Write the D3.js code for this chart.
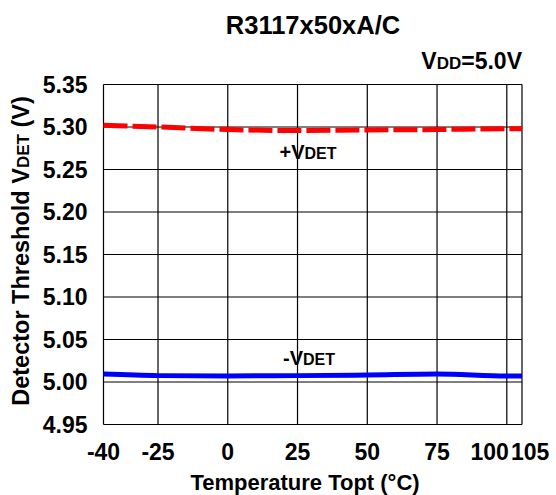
<!DOCTYPE html>
<html>
<head>
<meta charset="utf-8">
<script src="https://cdn.jsdelivr.net/npm/d3@7"></script>
<style>
  body { margin: 0; background: #fff; }
  text { font-family: "Liberation Sans", Arial, sans-serif; font-weight: bold; fill: #000; }
</style>
</head>
<body>
<div id="chart"></div>
<script>
// values
const temps = [-40, -25, 0, 25, 50, 75, 100, 105];
const vdetPlus = [5.302, 5.300, 5.297, 5.2958, 5.2965, 5.297, 5.298, 5.298];
const vdetMinus = [5.0093, 5.0075, 5.0071, 5.0075, 5.0082, 5.0093, 5.0071, 5.0071];
const xTicks = [-40, -25, 0, 25, 50, 75, 100, 105];
const yTicks = [4.95, 5.00, 5.05, 5.10, 5.15, 5.20, 5.25, 5.30, 5.35];

const W = 556, H = 495;
const margin = {left: 103.5, top: 84.5};
const width = 418.5, height = 340;

const svg = d3.select('#chart').append('svg')
  .attr('width', W)
  .attr('height', H);

const g = svg.append('g').attr('transform', `translate(${margin.left},${margin.top})`);

// the original axis is not evenly spaced at its ends, so use a piecewise scale
const x = d3.scaleLinear()
  .domain([-40, -25, 100, 105])
  .range([0, 54.5, 403.3, width]);

const y = d3.scaleLinear()
  .domain([4.95, 5.35])
  .range([height, 0]);

// grid
g.selectAll('.vgrid').data(xTicks).enter().append('line')
  .attr('x1', d => x(d)).attr('x2', d => x(d))
  .attr('y1', 0).attr('y2', height)
  .attr('stroke', '#000').attr('stroke-width', 1.2);

g.selectAll('.hgrid').data(yTicks).enter().append('line')
  .attr('x1', 0).attr('x2', width)
  .attr('y1', d => y(d)).attr('y2', d => y(d))
  .attr('stroke', '#000').attr('stroke-width', 1.2);

// tick labels
g.selectAll('.ylab').data(yTicks).enter().append('text')
  .attr('x', -16)
  .attr('y', d => y(d))
  .attr('dy', '0.36em')
  .attr('text-anchor', 'end')
  .style('font-size', '23px')
  .text(d => d.toFixed(2));

g.selectAll('.xlab').data(xTicks).enter().append('text')
  .attr('x', d => d === 100 ? x(d) + 2 : d === 105 ? x(d) - 11 : x(d))
  .attr('y', 375.5)
  .attr('text-anchor', d => d === 100 ? 'end' : d === 105 ? 'start' : 'middle')
  .style('font-size', '23px')
  .text(d => d);

// data lines
const line = d3.line()
  .x((d, i) => x(temps[i]))
  .y(d => y(d))
  .curve(d3.curveMonotoneX);

g.append('path')
  .datum(vdetMinus)
  .attr('d', line)
  .attr('fill', 'none')
  .attr('stroke', '#0000ff')
  .attr('stroke-width', 5);

g.append('path')
  .datum(vdetPlus)
  .attr('d', line)
  .attr('fill', 'none')
  .attr('stroke', '#ff0000')
  .attr('stroke-width', 5)
  .attr('stroke-dasharray', '24,5');

// label helper for V with small-caps subscript
function vLabel(sel, prefix, sub, big, small) {
  sel.append('tspan').style('font-size', big + 'px').text(prefix);
  sel.append('tspan').style('font-size', small + 'px').text(sub);
}

const plusLab = g.append('text')
  .attr('x', 308 - margin.left).attr('y', 159 - margin.top)
  .attr('text-anchor', 'middle');
vLabel(plusLab, '+V', 'DET', 20, 16);

const minusLab = g.append('text')
  .attr('x', 309 - margin.left).attr('y', 365 - margin.top)
  .attr('text-anchor', 'middle');
vLabel(minusLab, '-V', 'DET', 20, 16);

// titles
svg.append('text')
  .attr('x', 313).attr('y', 34)
  .attr('text-anchor', 'middle')
  .style('font-size', '25.5px')
  .text('R3117x50xA/C');

const vdd = svg.append('text')
  .attr('x', 522).attr('y', 68.5)
  .attr('text-anchor', 'end');
vLabel(vdd, 'V', 'DD', 23, 17);
vdd.append('tspan').style('font-size', '23px').text('=5.0V');

svg.append('text')
  .attr('x', 305).attr('y', 489.5)
  .attr('text-anchor', 'middle')
  .style('font-size', '22px')
  .text('Temperature Topt (°C)');

const yTitle = svg.append('text')
  .attr('transform', 'translate(28.5,251) rotate(-90)')
  .attr('text-anchor', 'middle')
  .style('font-size', '23.5px');
yTitle.append('tspan').text('Detector Threshold V');
yTitle.append('tspan').style('font-size', '17px').text('DET');
yTitle.append('tspan').text(' (V)');
</script>
</body>
</html>
